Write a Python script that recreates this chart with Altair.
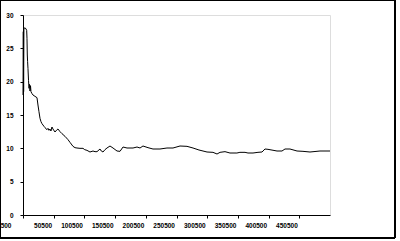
import altair as alt
import pandas as pd

x_vals = [500, 1000, 1500, 2000, 2500, 3800, 5400, 6500, 7000, 7500, 8000, 8600, 9500,
          10300, 11000, 11900, 12700, 13500, 15200, 16800, 20000, 23300, 24900, 26500,
          28200, 29800, 31400, 34700, 36300, 39600, 41200, 42800, 44400, 46000, 47700,
          49300, 52600, 55900, 57500, 60800, 64000, 68900, 73800, 77000, 81900, 85200,
          88400, 93300, 98200, 101000, 104700, 109600, 114500, 117800, 121000, 125900,
          128000, 130800, 134000, 137300, 142200, 147100, 153600, 158500, 163400, 169900,
          179700, 186200, 191100, 195900, 204100, 212200, 223600, 235000, 244800, 256200,
          267600, 277400, 287100, 300200, 309900, 316500, 321400, 329500, 337600, 348900,
          353800, 362100, 366900, 375100, 383200, 389800, 394600, 399500, 414200, 422300,
          427200, 435300, 446800, 456500, 467900, 484200, 500500]
y_vals = [18.0, 27.5, 18.5, 27.8, 28.0, 28.1, 27.9, 27.7, 26.5, 24.0, 23.0, 22.0, 20.2,
          19.0, 19.6, 18.6, 19.4, 18.5, 18.2, 18.0, 17.8, 17.6, 16.5, 15.5,
          14.5, 14.0, 13.7, 13.3, 13.1, 12.8, 13.0, 12.7, 12.9, 12.6, 13.2,
          12.9, 12.45, 12.8, 12.9, 12.5, 12.2, 11.8, 11.3, 10.9, 10.3, 10.1,
          10.05, 10.0, 10.0, 9.8, 9.7, 9.45, 9.6, 9.5, 9.5, 9.9,
          9.6, 9.45, 9.8, 10.05, 10.35, 10.05, 9.6, 9.55, 10.2, 10.05,
          10.05, 10.2, 10.05, 10.35, 10.1, 9.9, 9.9, 10.05, 10.05, 10.35,
          10.3, 10.05, 9.75, 9.45, 9.4, 9.15, 9.4, 9.5, 9.3, 9.3,
          9.4, 9.4, 9.3, 9.3, 9.4, 9.45, 9.9, 9.85, 9.6, 9.6,
          9.9, 9.9, 9.6, 9.55, 9.45, 9.6, 9.6]
x_ticks = [500, 50500, 100500, 150500, 200500, 250500, 300500, 350500, 400500, 450500]
y_ticks = [0, 5, 10, 15, 20, 25, 30]

df = pd.DataFrame({"x": x_vals, "y": y_vals})

FONT = "Liberation Sans Narrow, Liberation Sans, sans-serif"

line = alt.Chart(df).mark_line(color="black", strokeWidth=1).encode(
    x=alt.X("x:Q", scale=alt.Scale(domain=[500, 500500], nice=False, zero=False),
            axis=alt.Axis(values=x_ticks, format="d", title=None, grid=False,
                          domainColor="black", tickColor="black", tickSize=3,
                          labelPadding=4, labelAlign="right",
                          labelOffset=alt.ExprRef(expr="datum.value === 500 ? -12 : -2"),
                          labelFont=FONT, labelFontSize=6.5, labelFontWeight="bold",
                          labelColor="black", labelFlush=False, labelOverlap=False)),
    y=alt.Y("y:Q", scale=alt.Scale(domain=[0, 30], nice=False),
            axis=alt.Axis(values=y_ticks, format="d", title=None, grid=False,
                          domainColor="black", tickColor="black", tickSize=3,
                          labelPadding=7, labelFont=FONT, labelFontSize=6.5,
                          labelFontWeight="bold", labelColor="black", labelFlush=False)),
)

border = alt.Chart(df).mark_rect(fillOpacity=0, stroke="black", strokeWidth=1).encode(
    x=alt.value(-22.5), x2=alt.value(372), y=alt.value(-14.5), y2=alt.value(223)
)

chart = alt.layer(line, border).properties(
    width=307, height=200,
    autosize=alt.AutoSizeParams(type="none"),
    padding={"left": 23, "top": 15, "right": 70, "bottom": 26},
).configure_view(stroke=None).configure(background="white")

chart.save("out.html", embed_options={"renderer": "svg", "actions": False})
